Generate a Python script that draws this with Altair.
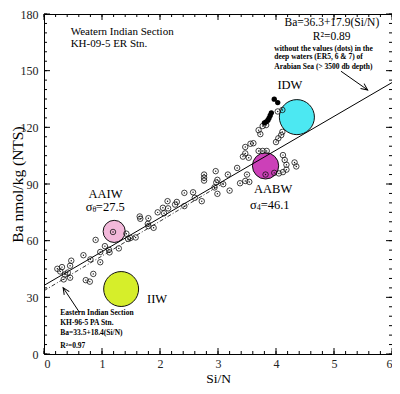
import altair as alt
import pandas as pd

# ---- data ----
open_x = [0.31, 0.28, 0.36, 0.45, 0.34, 0.47, 0.45, 0.23, 0.41,
          0.68, 0.80, 0.97, 0.85, 0.72, 0.79, 0.89, 1.19,
          0.97, 1.05, 1.12, 1.13, 1.29, 1.42, 1.45, 1.58, 1.49,
          1.65, 1.66, 1.80, 1.79, 1.80, 1.89,
          1.96, 2.07, 2.05, 2.14, 2.13, 2.29, 2.26, 2.42,
          2.42, 2.57, 2.60, 2.72, 2.76, 2.76, 2.76,
          2.96, 3.17, 2.99, 2.97, 3.09, 2.94, 2.99, 3.20,
          3.38, 3.47, 3.54, 3.33, 3.43, 3.53, 3.70, 3.77, 3.84,
          3.47, 3.56, 3.61, 3.70, 3.73, 3.77, 3.83,
          4.03, 4.11, 4.11, 4.09, 4.04, 4.00,
          4.12, 4.15, 4.32, 4.35, 4.18, 4.18, 4.12, 4.05,
          3.82, 3.97, 3.47, 3.50]
open_y = [46.0, 43.7, 42.1, 40.4, 39.5, 49.4, 46.7, 45.1, 43.1,
          52.3, 50.1, 48.6, 42.4, 39.1, 38.3, 60.4, 64.6,
          54.0, 57.1, 55.2, 53.8, 55.9, 63.7, 60.9, 61.7, 61.4,
          72.8, 71.6, 71.9, 68.9, 67.7, 66.8,
          75.0, 74.5, 77.4, 77.1, 80.9, 80.5, 79.1, 78.3,
          85.3, 85.6, 82.7, 80.9, 95.0, 93.3, 91.8,
          96.8, 95.0, 92.2, 90.8, 89.9, 88.2, 84.8, 86.5,
          90.4, 91.6, 91.1, 98.5, 104.5, 103.9, 107.5, 107.5, 107.5,
          109.6, 111.3, 111.6, 118.5, 116.4, 120.7, 121.2,
          128.4, 129.2, 117.6, 115.9, 114.2, 112.2,
          105.3, 102.7, 101.4, 99.3, 100.2, 97.6, 96.3, 95.6,
          95.0, 95.9, 106.2, 95.0]

dot_x = [3.97, 4.03, 3.92, 3.90, 3.88, 3.86, 3.83, 3.80]
dot_y = [134.9, 133.1, 127.7, 126.3, 124.9, 123.8, 122.9, 122.4]

mass_names = ["IIW", "AAIW", "AABW", "IDW"]
mass_x = [1.33, 1.21, 3.82, 4.36]
mass_y = [34.4, 64.9, 99.6, 125.4]
mass_size = [1220, 490, 690, 1230]
mass_color = ["#D6EE2A", "#F2B8DA", "#CC40B8", "#4CE8F2"]

solid_x = [0, 6]
solid_y = [36.3, 143.7]
dash_x = [0, 3.1]
dash_y = [33.5, 90.54]

x_major = [0, 1, 2, 3, 4, 5, 6]
y_major = [0, 30, 60, 90, 120, 150, 180]
x_minor = [i / 5 for i in range(31)]
y_minor = [i * 5 for i in range(37)]

W, H = 348, 340
FONT = "Liberation Serif"

xs = alt.Scale(domain=[0, 6], nice=False, zero=False)
ys = alt.Scale(domain=[0, 180], nice=False, zero=False)

X = alt.X("x:Q", scale=xs, axis=alt.Axis(
    values=x_major, ticks=False, domain=False, grid=False,
    labelFont=FONT, labelFontSize=12, labelColor="#222", labelPadding=4,
    title="Si/N", titleFont=FONT, titleFontSize=13.5, titleFontWeight="normal",
    titleColor="#000", titleX=W / 2, titleY=17, titleBaseline="top", titleAlign="center"))
Y = alt.Y("y:Q", scale=ys, axis=alt.Axis(
    values=y_major, ticks=False, domain=False, grid=False,
    labelFont=FONT, labelFontSize=12, labelColor="#222", labelPadding=6,
    title="Ba nmol/kg (NTS)", titleFont=FONT, titleFontSize=15.5, titleFontWeight="normal",
    titleColor="#000", titleAngle=270, titleX=-27, titleY=H / 2,
    titleAlign="center", titleBaseline="middle"))

layers = []

# big water-mass circles
mass_df = pd.DataFrame({"x": mass_x, "y": mass_y, "s": mass_size, "c": mass_color, "n": mass_names})
layers.append(alt.Chart(mass_df).mark_point(shape="circle", filled=True, opacity=1,
                                            stroke="#111", strokeWidth=1).encode(
    x=X, y=Y, size=alt.Size("s:Q", scale=None), fill=alt.Fill("c:N", scale=None)))

# regression lines
layers.append(alt.Chart(pd.DataFrame({"x": solid_x, "y": solid_y})).mark_line(
    color="#000", strokeWidth=1).encode(x=X, y=Y))
layers.append(alt.Chart(pd.DataFrame({"x": dash_x, "y": dash_y})).mark_line(
    color="#000", strokeWidth=0.8, strokeDash=[4, 2, 1, 2]).encode(x=X, y=Y))

# data points
pts = pd.DataFrame({"x": open_x, "y": open_y})
layers.append(alt.Chart(pts).mark_point(shape="circle", filled=False, stroke="#111",
                                        strokeWidth=0.8, size=30, opacity=1).encode(x=X, y=Y))
layers.append(alt.Chart(pts).mark_point(shape="circle", filled=True, fill="#111",
                                        strokeWidth=0, size=2, opacity=1).encode(x=X, y=Y))
layers.append(alt.Chart(pd.DataFrame({"x": dot_x, "y": dot_y})).mark_point(
    shape="circle", filled=True, fill="#000", strokeWidth=0, size=28, opacity=1).encode(x=X, y=Y))

# arrows
arr = pd.DataFrame({"x": [5.12, 0.61], "y": [149.7, 22.1], "x2": [5.58, 0.33], "y2": [139.8, 35.1]})
layers.append(alt.Chart(arr).mark_rule(color="#000", strokeWidth=1).encode(
    x=X, y=Y, x2="x2:Q", y2="y2:Q"))
heads = pd.DataFrame({"x": [5.58, 0.33], "y": [139.8, 35.1], "a": [126, 327]})
layers.append(alt.Chart(heads).mark_point(shape="M-0.5,1.1L0,0L0.5,1.1", filled=False,
                                          stroke="#000", strokeWidth=1, size=144, opacity=1).encode(
    x=X, y=Y, angle=alt.Angle("a:Q", scale=None)))


def txt(xv, yv, texts, size, align="left", weight="normal", dy=0):
    df = pd.DataFrame({"x": xv, "y": yv, "t": texts})
    return alt.Chart(df).mark_text(font=FONT, fontSize=size, align=align, baseline="middle",
                                   fontWeight=weight, color="#000", dy=dy).encode(
        x=X, y=Y, text="t:N")


layers.append(txt([0.46, 0.46], [170.3, 164.1], ["Weatern Indian Section", "KH-09-5 ER Stn."], 11))
layers.append(txt([5.78], [175.4], ["Ba=36.3+17.9(Si/N)"], 11.5, align="right"))
layers.append(txt([4.96], [167.7], ["R²=0.89"], 11.5, align="center"))
layers.append(txt([3.97, 3.97, 3.97], [161.7, 157.1, 151.8],
                  ["without the values (dots) in the", "deep waters (ER5, 6 & 7) of",
                   "Arabian Sea (> 3500 db depth)"], 7.5, weight="bold"))
layers.append(txt([0.28, 0.28, 0.28, 0.28], [21.5, 16.4, 11.3, 4.1],
                  ["Eastern Indian Section", "KH-96-5 PA Stn.", "Ba=33.5+18.4(Si/N)", "R²=0.97"],
                  7.5, weight="bold"))
layers.append(txt([4.24, 3.95, 1.06, 1.95], [142.4, 87.3, 84.8, 29.2],
                  ["IDW", "AABW", "AAIW", "IIW"], 12.5, align="center"))
layers.append(txt([0.838, 3.67], [77.9, 78.8], ["σ", "σ"], 12.5, align="right"))
layers.append(txt([0.838, 3.67], [77.9, 78.8], ["θ", "4"], 8, align="left", dy=3))
layers.append(txt([0.894, 3.735], [77.9, 78.8], ["=27.5", "=46.1"], 12.5, align="left"))


# inward ticks on all four sides
def xticks(vals, length):
    df = pd.DataFrame({"x": vals})
    b = alt.Chart(df).mark_rule(color="#000", strokeWidth=1).encode(
        x=X, y=alt.value(H), y2=alt.value(H - length))
    t = alt.Chart(df).mark_rule(color="#000", strokeWidth=1).encode(
        x=X, y=alt.value(0), y2=alt.value(length))
    return [b, t]


def yticks(vals, length):
    df = pd.DataFrame({"y": vals})
    l = alt.Chart(df).mark_rule(color="#000", strokeWidth=1).encode(
        y=Y, x=alt.value(0), x2=alt.value(length))
    r = alt.Chart(df).mark_rule(color="#000", strokeWidth=1).encode(
        y=Y, x=alt.value(W), x2=alt.value(W - length))
    return [l, r]


layers += xticks(x_minor, 3) + xticks(x_major, 6) + yticks(y_minor, 3) + yticks(y_major, 6)

chart = alt.layer(*layers).properties(
    width=W, height=H,
    autosize=alt.AutoSizeParams(type="none"),
    padding={"left": 36, "top": 6, "right": 0, "bottom": 32},
    background="white",
).configure_view(stroke="#000", strokeWidth=1)

chart.save("out.html", embed_options={"renderer": "svg", "actions": False})
